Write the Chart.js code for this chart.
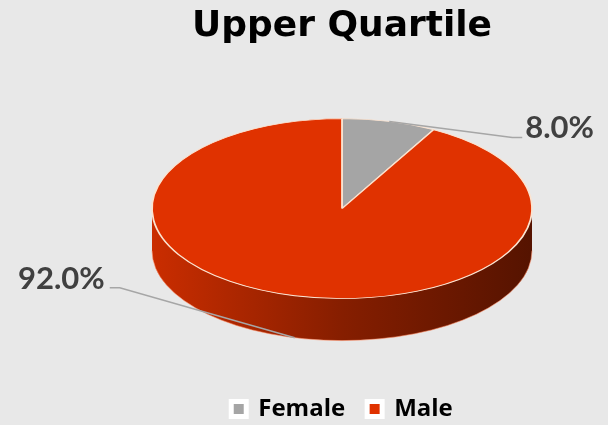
<!DOCTYPE html>
<html>
<head>
<meta charset="utf-8">
<script src="https://cdn.jsdelivr.net/npm/chart.js@4.4.1/dist/chart.umd.min.js"></script>
<style>
  html, body { margin: 0; padding: 0; background: #e8e8e8; }
  #wrap { width: 608px; height: 425px; }
</style>
</head>
<body>
<div id="wrap"><canvas id="myChart"></canvas></div>
<script>
// Datos del gráfico
const categories = ['Female', 'Male'];
const shares = [8.0, 92.0];
const sliceColors = ['#a5a5a5', '#e03200'];

function shade(hex, f) {
    const n = parseInt(hex.slice(1), 16);
    const r = (n >> 16) & 255, g = (n >> 8) & 255, b = n & 255;
    return 'rgb(' + Math.round(r * f) + ',' + Math.round(g * f) + ',' + Math.round(b * f) + ')';
}

// Plugin: aplana el pastel en elipse y dibuja el canto lateral + etiquetas
const pie3d = {
    id: 'pie3d',
    geom(chart, opts) {
        const arc = chart.getDatasetMeta(0).data[0];
        return { arc, cx: arc.x, cy: arc.y + opts.shiftY, rx: opts.rx, ry: opts.ry, depth: opts.depth };
    },
    beforeDatasetsDraw(chart, args, opts) {
        const ctx = chart.ctx;
        const g = this.geom(chart, opts);
        const meta = chart.getDatasetMeta(0);
        meta.data.forEach((a, i) => {
            for (const k of [-2, 0, 2]) {
                const lo = Math.max(a.startAngle + k * Math.PI, 0);
                const hi = Math.min(a.endAngle + k * Math.PI, Math.PI);
                if (hi <= lo) continue;
                const base = sliceColors[i];
                const grad = ctx.createLinearGradient(g.cx - g.rx, 0, g.cx + g.rx, 0);
                grad.addColorStop(0, shade(base, 0.9));
                grad.addColorStop(0.5, shade(base, 0.6));
                grad.addColorStop(1, shade(base, 0.38));
                ctx.save();
                ctx.beginPath();
                ctx.ellipse(g.cx, g.cy, g.rx, g.ry, 0, lo, hi);
                ctx.ellipse(g.cx, g.cy + g.depth, g.rx, g.ry, 0, hi, lo, true);
                ctx.closePath();
                ctx.fillStyle = grad;
                ctx.fill();
                ctx.beginPath();
                ctx.ellipse(g.cx, g.cy + g.depth, g.rx, g.ry, 0, lo, hi);
                ctx.strokeStyle = 'rgba(255,140,100,0.55)';
                ctx.lineWidth = 1;
                ctx.stroke();
                ctx.restore();
            }
        });
        // transformación de la cara superior
        ctx.save();
        ctx.translate(g.cx, g.cy);
        ctx.scale(g.rx / g.arc.outerRadius, g.ry / g.arc.outerRadius);
        ctx.translate(-g.arc.x, -g.arc.y);
    },
    afterDatasetsDraw(chart) {
        chart.ctx.restore();
    },
    afterDraw(chart, args, opts) {
        const ctx = chart.ctx;
        const g = this.geom(chart, opts);
        const meta = chart.getDatasetMeta(0);
        meta.data.forEach((a, i) => {
            const m = (a.startAngle + a.endAngle) / 2;
            const ex = g.cx + g.rx * Math.cos(m);
            let ey = g.cy + g.ry * Math.sin(m);
            if (Math.sin(m) > 0) ey += g.depth;
            const L = opts.leaders[i];
            const bx = ex + L.dx, by = ey + L.dy;
            const right = L.dx > 0;
            const tx = bx + (right ? 10 : -10);
            ctx.save();
            ctx.strokeStyle = '#a6a6a6';
            ctx.lineWidth = 1.5;
            ctx.beginPath();
            ctx.moveTo(ex, ey);
            ctx.lineTo(bx, by);
            ctx.lineTo(tx, by);
            ctx.stroke();
            ctx.fillStyle = '#404040';
            ctx.font = 'bold 31px Lato';
            ctx.textAlign = right ? 'left' : 'right';
            ctx.textBaseline = 'alphabetic';
            ctx.fillText(shares[i].toFixed(1) + '%', tx + (right ? 3 : -5), by + 1);
            ctx.restore();
        });
    }
};

const ctx = document.getElementById('myChart').getContext('2d');
const chart = new Chart(ctx, {
    type: 'pie',
    data: {
        labels: categories,
        datasets: [{
            data: shares,
            backgroundColor: sliceColors,
            borderColor: '#fbe3d0',
            borderWidth: 1.5,
            clip: false
        }]
    },
    plugins: [pie3d],
    options: {
        responsive: true,
        maintainAspectRatio: false,
        animation: false,
        events: [],
        layout: { padding: { left: 76, bottom: -6 } },
        plugins: {
            title: {
                display: true,
                text: 'Upper Quartile',
                color: '#000000',
                font: { family: '"DejaVu Sans"', size: 36, weight: 'bold' },
                padding: { top: 5, bottom: 8 }
            },
            legend: {
                position: 'bottom',
                labels: {
                    color: '#000000',
                    font: { family: '"Open Sans"', size: 24, weight: 'bold' },
                    boxWidth: 15,
                    boxHeight: 15,
                    padding: 22,
                    generateLabels(chart) {
                        return Chart.overrides.pie.plugins.legend.labels.generateLabels(chart).map(it => {
                            it.strokeStyle = '#ffffff';
                            it.lineWidth = 5;
                            return it;
                        });
                    }
                }
            },
            tooltip: { enabled: false },
            pie3d: {
                rx: 190,
                ry: 90,
                depth: 42,
                shiftY: -7,
                leaders: [{ dx: 123, dy: 16 }, { dx: -175, dy: -50 }]
            }
        }
    }
});
</script>
</body>
</html>
